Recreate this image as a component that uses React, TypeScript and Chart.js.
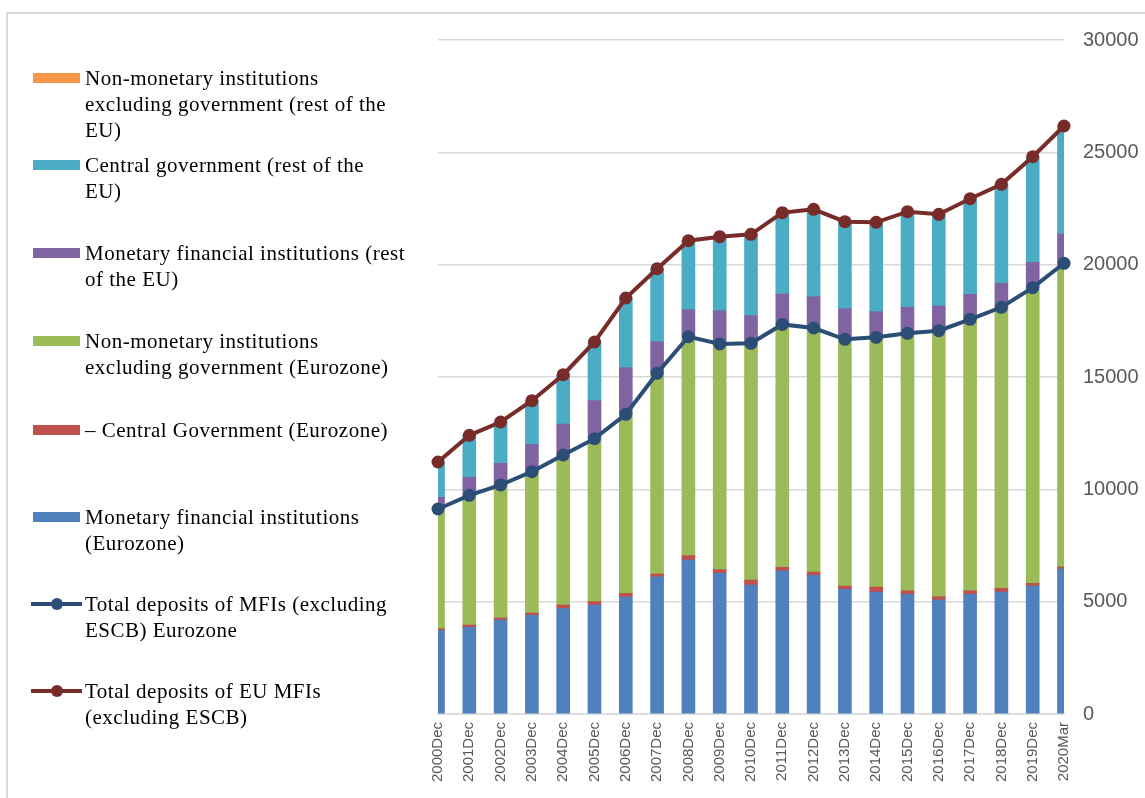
import React, { useEffect, useRef } from "react";
import { Chart, registerables } from "chart.js";

Chart.register(...registerables);

const categories = [
  "2000Dec", "2001Dec", "2002Dec", "2003Dec", "2004Dec", "2005Dec", "2006Dec",
  "2007Dec", "2008Dec", "2009Dec", "2010Dec", "2011Dec", "2012Dec", "2013Dec",
  "2014Dec", "2015Dec", "2016Dec", "2017Dec", "2018Dec", "2019Dec", "2020Mar",
];

const mfiEurozone = [3708, 3859, 4184, 4393, 4687, 4852, 5208, 6111, 6855, 6263, 5742, 6378, 6173, 5550, 5430, 5328, 5074, 5328, 5430, 5697, 6454];
const centralGovEurozone = [89, 100, 89, 100, 165, 150, 160, 120, 200, 160, 220, 150, 147, 147, 220, 160, 148, 160, 165, 120, 90];
const nonMonetaryEurozone = [5328, 5774, 5920, 6293, 6676, 7253, 7971, 8933, 9740, 10046, 10537, 10812, 10861, 10980, 11117, 11457, 11839, 12080, 12507, 13158, 13517];
const mfiRestEU = [520, 802, 965, 1218, 1380, 1691, 2075, 1407, 1201, 1482, 1230, 1354, 1393, 1363, 1140, 1157, 1099, 1113, 1069, 1130, 1304];
const centralGovRestEU = [1561, 1858, 1827, 1930, 2184, 2600, 3090, 3238, 3060, 3283, 3609, 3608, 3878, 3861, 3966, 4244, 4069, 4244, 4394, 4689, 4795];
const nonMonetaryRestEU = [10, 12, 12, 12, 12, 12, 12, 12, 12, 12, 12, 12, 12, 12, 12, 12, 12, 12, 12, 12, 12];
const totalEurozone = [9125, 9733, 10193, 10786, 11528, 12255, 13339, 15164, 16795, 16469, 16499, 17340, 17181, 16677, 16767, 16945, 17061, 17568, 18102, 18975, 20061];
const totalEU = [11216, 12405, 12997, 13946, 15104, 16558, 18516, 19821, 21068, 21246, 21350, 22314, 22464, 21913, 21885, 22358, 22241, 22937, 23577, 24806, 26172];
const yTicks = [0, 5000, 10000, 15000, 20000, 25000, 30000];

const C = {
  blue: "#4F81BD",
  red: "#C0504D",
  green: "#9BBB59",
  purple: "#8064A2",
  cyan: "#4BACC6",
  orange: "#F79646",
  lineBlue: "#2C4D75",
  lineRed: "#772C2A",
};

type LegendItem = { label: string[]; color: string; kind: "bar" | "line"; top: number };

const legendItems: LegendItem[] = [
  { label: ["Non-monetary institutions", "excluding government (rest of the", "EU)"], color: C.orange, kind: "bar", top: 65 },
  { label: ["Central government (rest of the", "EU)"], color: C.cyan, kind: "bar", top: 152 },
  { label: ["Monetary financial institutions (rest", "of the EU)"], color: C.purple, kind: "bar", top: 240 },
  { label: ["Non-monetary institutions", "excluding government (Eurozone)"], color: C.green, kind: "bar", top: 328 },
  { label: ["\u2013 Central Government (Eurozone)"], color: C.red, kind: "bar", top: 417 },
  { label: ["Monetary financial institutions", "(Eurozone)"], color: C.blue, kind: "bar", top: 504 },
  { label: ["Total deposits of MFIs (excluding", "ESCB) Eurozone"], color: C.lineBlue, kind: "line", top: 591 },
  { label: ["Total deposits of EU MFIs", "(excluding ESCB)"], color: C.lineRed, kind: "line", top: 678 },
];

export default function App() {
  const ref = useRef<HTMLCanvasElement | null>(null);

  useEffect(() => {
    if (!ref.current) return;
    const bar = (label: string, data: number[], color: string) => ({
      type: "bar" as const,
      label,
      data,
      backgroundColor: color,
      borderWidth: 0,
      barThickness: 13,
      order: 2,
      clip: 0,
      stack: "bars",
    });
    const line = (label: string, data: number[], color: string, stack: string) => ({
      type: "line" as const,
      label,
      data,
      borderColor: color,
      backgroundColor: color,
      borderWidth: 4,
      pointRadius: 6.5,
      pointBorderWidth: 0,
      pointBackgroundColor: color,
      tension: 0,
      order: 0,
      clip: false,
      stack,
    });
    const chart = new Chart(ref.current, {
      type: "bar",
      data: {
        labels: categories,
        datasets: [
          bar("Monetary financial institutions (Eurozone)", mfiEurozone, C.blue),
          bar("– Central Government (Eurozone)", centralGovEurozone, C.red),
          bar("Non-monetary institutions excluding government (Eurozone)", nonMonetaryEurozone, C.green),
          bar("Monetary financial institutions (rest of the EU)", mfiRestEU, C.purple),
          bar("Central government (rest of the EU)", centralGovRestEU, C.cyan),
          bar("Non-monetary institutions excluding government (rest of the EU)", nonMonetaryRestEU, C.orange),
          line("Total deposits of MFIs (excluding ESCB) Eurozone", totalEurozone, C.lineBlue, "l1"),
          line("Total deposits of EU MFIs (excluding ESCB)", totalEU, C.lineRed, "l2"),
        ] as any,
      },
      options: {
        responsive: false,
        animation: false,
        devicePixelRatio: 1,
        layout: { padding: { left: 438, top: 40, right: 0, bottom: 0 } },
        plugins: { legend: { display: false }, tooltip: { enabled: false } },
        scales: {
          x: {
            stacked: true,
            offset: false,
            grid: { display: false, drawTicks: false },
            border: { display: true, color: "#d9d9d9", width: 1.5 },
            ticks: {
              autoSkip: false,
              minRotation: 90,
              maxRotation: 90,
              padding: 8,
              color: "#595959",
              font: { family: "'Liberation Sans', Arial, sans-serif", size: 15 },
            },
            afterFit: (s: any) => {
              s.height = 84;
            },
          },
          y: {
            stacked: true,
            position: "right",
            min: 0,
            max: 30000,
            afterBuildTicks: (s: any) => {
              s.ticks = yTicks.map((v) => ({ value: v }));
            },
            grid: { color: "#d9d9d9", lineWidth: 1.5, drawTicks: false },
            border: { display: false },
            ticks: {
              padding: 19,
              color: "#595959",
              font: { family: "'Liberation Sans', Arial, sans-serif", size: 20 },
              callback: (v: any) => String(v),
            },
            afterFit: (s: any) => {
              s.width = 81;
            },
          },
        },
      },
    });
    return () => chart.destroy();
  }, []);

  return (
    <div style={{ position: "absolute", left: 0, top: 0, width: 1145, height: 798, background: "#fff", overflow: "hidden" }}>
      <div
        style={{
          position: "absolute",
          left: 6,
          top: 12,
          width: 1200,
          height: 900,
          borderLeft: "2px solid #d9d9d9",
          borderTop: "2px solid #d9d9d9",
        }}
      />
      <canvas ref={ref} width={1145} height={798} style={{ position: "absolute", left: 0, top: 0, width: 1145, height: 798 }} />
      {legendItems.map((it, i) => (
        <div key={i} style={{ position: "absolute", left: 0, top: it.top, width: 430 }}>
          {it.kind === "bar" ? (
            <div style={{ position: "absolute", left: 33, top: 8, width: 47, height: 10, background: it.color }} />
          ) : (
            <>
              <div style={{ position: "absolute", left: 31, top: 11, width: 51, height: 4, background: it.color }} />
              <div
                style={{
                  position: "absolute",
                  left: 51,
                  top: 7,
                  width: 12,
                  height: 12,
                  borderRadius: "50%",
                  background: it.color,
                }}
              />
            </>
          )}
          <div
            style={{
              position: "absolute",
              left: 85,
              top: 0,
              fontFamily: "'Liberation Serif', 'Times New Roman', serif",
              fontSize: 21,
              letterSpacing: 0.5,
              lineHeight: "26px",
              color: "#000",
              whiteSpace: "nowrap",
            }}
          >
            {it.label.map((l, j) => (
              <div key={j}>{l}</div>
            ))}
          </div>
        </div>
      ))}
    </div>
  );
}
